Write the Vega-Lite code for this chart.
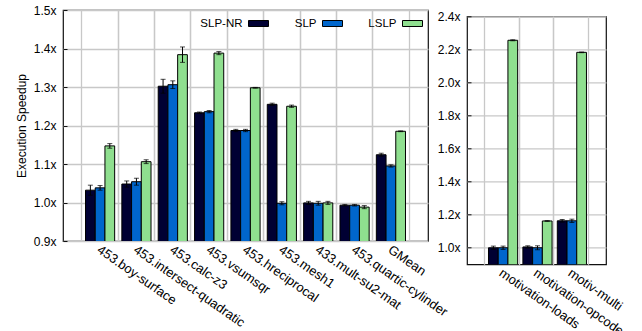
{
  "$schema": "https://vega.github.io/schema/vega-lite/v6.json",
  "background": "white",
  "padding": {"left": 14, "top": 3, "right": 0, "bottom": 0},
  "config": {
    "font": "Liberation Sans",
    "view": {"stroke": "#111111", "strokeWidth": 1.2},
    "axis": {
      "labelFont": "Liberation Sans",
      "labelFontSize": 12,
      "labelColor": "black",
      "titleFont": "Liberation Sans",
      "titleFontSize": 12,
      "titleFontWeight": "normal",
      "titleColor": "black",
      "gridColor": "#c8c8c8",
      "gridWidth": 1.3,
      "gridOpacity": 1,
      "domain": false,
      "labelOverlap": false
    }
  },
  "datasets": {
    "main": [
      {"bench": "453.boy-surface", "config": "SLP-NR", "value": 1.032, "lo": 1.019, "hi": 1.045},
      {"bench": "453.boy-surface", "config": "SLP", "value": 1.038, "lo": 1.032, "hi": 1.044},
      {"bench": "453.boy-surface", "config": "LSLP", "value": 1.147, "lo": 1.141, "hi": 1.153},
      {"bench": "453.intersect-quadratic", "config": "SLP-NR", "value": 1.048, "lo": 1.040, "hi": 1.056},
      {"bench": "453.intersect-quadratic", "config": "SLP", "value": 1.054, "lo": 1.045, "hi": 1.063},
      {"bench": "453.intersect-quadratic", "config": "LSLP", "value": 1.106, "lo": 1.101, "hi": 1.111},
      {"bench": "453.calc-z3", "config": "SLP-NR", "value": 1.302, "lo": 1.284, "hi": 1.320},
      {"bench": "453.calc-z3", "config": "SLP", "value": 1.306, "lo": 1.296, "hi": 1.316},
      {"bench": "453.calc-z3", "config": "LSLP", "value": 1.384, "lo": 1.364, "hi": 1.404},
      {"bench": "453.vsumsqr", "config": "SLP-NR", "value": 1.233, "lo": 1.231, "hi": 1.235},
      {"bench": "453.vsumsqr", "config": "SLP", "value": 1.236, "lo": 1.233, "hi": 1.239},
      {"bench": "453.vsumsqr", "config": "LSLP", "value": 1.388, "lo": 1.384, "hi": 1.392},
      {"bench": "453.hreciprocal", "config": "SLP-NR", "value": 1.187, "lo": 1.184, "hi": 1.190},
      {"bench": "453.hreciprocal", "config": "SLP", "value": 1.187, "lo": 1.184, "hi": 1.190},
      {"bench": "453.hreciprocal", "config": "LSLP", "value": 1.298, "lo": 1.297, "hi": 1.299},
      {"bench": "453.mesh1", "config": "SLP-NR", "value": 1.255, "lo": 1.252, "hi": 1.258},
      {"bench": "453.mesh1", "config": "SLP", "value": 0.998, "lo": 0.994, "hi": 1.002},
      {"bench": "453.mesh1", "config": "LSLP", "value": 1.250, "lo": 1.247, "hi": 1.253},
      {"bench": "433.mult-su2-mat", "config": "SLP-NR", "value": 0.999, "lo": 0.995, "hi": 1.003},
      {"bench": "433.mult-su2-mat", "config": "SLP", "value": 0.998, "lo": 0.993, "hi": 1.003},
      {"bench": "433.mult-su2-mat", "config": "LSLP", "value": 0.999, "lo": 0.995, "hi": 1.003},
      {"bench": "453.quartic-cylinder", "config": "SLP-NR", "value": 0.993, "lo": 0.991, "hi": 0.995},
      {"bench": "453.quartic-cylinder", "config": "SLP", "value": 0.993, "lo": 0.991, "hi": 0.995},
      {"bench": "453.quartic-cylinder", "config": "LSLP", "value": 0.988, "lo": 0.984, "hi": 0.992},
      {"bench": "GMean", "config": "SLP-NR", "value": 1.124, "lo": 1.120, "hi": 1.128},
      {"bench": "GMean", "config": "SLP", "value": 1.095, "lo": 1.092, "hi": 1.098},
      {"bench": "GMean", "config": "LSLP", "value": 1.185, "lo": 1.184, "hi": 1.186}
    ],
    "motiv": [
      {"bench": "motivation-loads", "config": "SLP-NR", "value": 1.0, "lo": 0.99, "hi": 1.01},
      {"bench": "motivation-loads", "config": "SLP", "value": 1.0, "lo": 0.99, "hi": 1.01},
      {"bench": "motivation-loads", "config": "LSLP", "value": 2.255, "lo": 2.252, "hi": 2.258},
      {"bench": "motivation-opcodes", "config": "SLP-NR", "value": 1.005, "lo": 0.998, "hi": 1.012},
      {"bench": "motivation-opcodes", "config": "SLP", "value": 1.0, "lo": 0.988, "hi": 1.012},
      {"bench": "motivation-opcodes", "config": "LSLP", "value": 1.162, "lo": 1.160, "hi": 1.164},
      {"bench": "motiv-multi", "config": "SLP-NR", "value": 1.163, "lo": 1.155, "hi": 1.171},
      {"bench": "motiv-multi", "config": "SLP", "value": 1.163, "lo": 1.153, "hi": 1.173},
      {"bench": "motiv-multi", "config": "LSLP", "value": 2.182, "lo": 2.180, "hi": 2.184}
    ]
  },
  "bounds": "flush",
  "spacing": 39,
  "resolve": {"scale": {"color": "independent"}, "legend": {"color": "independent"}},
  "hconcat": [
    {
      "width": 365,
      "height": 231,
      "data": {"name": "main"},
      "resolve": {"axis": {"x": "independent"}},
      "layer": [
        {
          "mark": {"type": "bar", "stroke": "black", "strokeWidth": 1, "clip": true},
          "encoding": {
            "x": {
              "field": "bench", "type": "nominal", "sort": null,
              "scale": {"paddingInner": 0, "paddingOuter": 0.52},
              "axis": {"title": null, "bandPosition": 0, "grid": true, "ticks": false, "labelAngle": 35, "labelAlign": "left", "labelBaseline": "top", "labelOffset": 2, "labelPadding": 2, "labelFontSize": 13}
            },
            "xOffset": {"field": "config", "type": "nominal", "sort": ["SLP-NR", "SLP", "LSLP"], "scale": {"paddingInner": 0, "paddingOuter": 0.37}},
            "y": {
              "field": "value", "type": "quantitative", "title": "Execution Speedup",
              "scale": {"domain": [0.9, 1.5], "zero": false, "nice": false},
              "axis": {"values": [0.9, 1.0, 1.1, 1.2, 1.3, 1.4, 1.5], "tickCount": 20, "labelExpr": "format(datum.value, '.1f') + 'x'", "grid": true, "ticks": true, "tickSize": -4, "tickColor": "#111111", "labelPadding": 11, "titlePadding": 5}
            },
            "color": {
              "field": "config", "type": "nominal",
              "scale": {"domain": ["SLP-NR", "SLP", "LSLP"], "range": ["#000033", "#0066cc", "#8fdf8f"]},
              "legend": {
                "title": null, "orient": "none", "legendX": 185, "legendY": 3, "direction": "horizontal", "columns": 3,
                "gridAlign": "none", "columnPadding": 23, "padding": 0,
                "symbolType": "M-1,-0.3L1,-0.3L1,0.3L-1,0.3Z", "symbolSize": 400,
                "symbolStrokeColor": "black", "symbolStrokeWidth": 1, "symbolOpacity": 1,
                "labelAlign": "right", "labelOffset": -26.5, "labelFontSize": 11.5, "labelColor": "black", "labelFont": "Liberation Sans"
              }
            }
          }
        },
        {
          "mark": {"type": "rule", "color": "black", "strokeWidth": 1},
          "encoding": {
            "x": {"field": "bench", "type": "nominal", "sort": null, "axis": null},
            "xOffset": {"field": "config", "type": "nominal", "sort": ["SLP-NR", "SLP", "LSLP"]},
            "y": {"field": "lo", "type": "quantitative", "title": "Execution Speedup"},
            "y2": {"field": "hi"}
          }
        },
        {
          "mark": {"type": "tick", "color": "black", "size": 5, "thickness": 1, "orient": "horizontal"},
          "encoding": {
            "x": {"field": "bench", "type": "nominal", "sort": null, "axis": null},
            "xOffset": {"field": "config", "type": "nominal", "sort": ["SLP-NR", "SLP", "LSLP"]},
            "y": {"field": "lo", "type": "quantitative", "title": "Execution Speedup"}
          }
        },
        {
          "mark": {"type": "tick", "color": "black", "size": 5, "thickness": 1, "orient": "horizontal"},
          "encoding": {
            "x": {"field": "bench", "type": "nominal", "sort": null, "axis": {"orient": "top", "title": null, "bandPosition": 1, "grid": true, "ticks": false, "labels": false, "domain": false}},
            "xOffset": {"field": "config", "type": "nominal", "sort": ["SLP-NR", "SLP", "LSLP"]},
            "y": {"field": "hi", "type": "quantitative", "title": "Execution Speedup"}
          }
        }
      ]
    },
    {
      "bounds": "flush",
      "spacing": 5.3,
      "vconcat": [
        {
          "width": 139,
          "height": 1,
          "view": {"stroke": null},
          "data": {"values": [{}]},
          "mark": {"type": "point", "opacity": 0},
          "encoding": {}
        },
        {
          "width": 139,
          "height": 248,
          "data": {"name": "motiv"},
          "resolve": {"axis": {"x": "independent"}},
          "layer": [
            {
              "mark": {"type": "bar", "stroke": "black", "strokeWidth": 1, "clip": true},
              "encoding": {
                "x": {
                  "field": "bench", "type": "nominal", "sort": null,
                  "scale": {"paddingInner": 0, "paddingOuter": 0.52},
                  "axis": {"title": null, "bandPosition": 0, "grid": true, "ticks": false, "labelAngle": 35, "labelAlign": "left", "labelBaseline": "top", "labelOffset": 2, "labelPadding": 2, "labelFontSize": 13}
                },
                "xOffset": {"field": "config", "type": "nominal", "sort": ["SLP-NR", "SLP", "LSLP"], "scale": {"paddingInner": 0, "paddingOuter": 0.5}},
                "y": {
                  "field": "value", "type": "quantitative", "title": null,
                  "scale": {"domain": [0.9, 2.4], "zero": false, "nice": false},
                  "axis": {"values": [1.0, 1.2, 1.4, 1.6, 1.8, 2.0, 2.2, 2.4], "tickCount": 20, "labelExpr": "format(datum.value, '.1f') + 'x'", "grid": true, "ticks": true, "tickSize": -4, "tickColor": "#111111", "labelPadding": 11}
                },
                "color": {
                  "field": "config", "type": "nominal",
                  "scale": {"domain": ["SLP-NR", "SLP", "LSLP"], "range": ["#000033", "#0066cc", "#8fdf8f"]},
                  "legend": null
                }
              }
            },
            {
              "mark": {"type": "rule", "color": "black", "strokeWidth": 1},
              "encoding": {
                "x": {"field": "bench", "type": "nominal", "sort": null, "axis": null},
                "xOffset": {"field": "config", "type": "nominal", "sort": ["SLP-NR", "SLP", "LSLP"]},
                "y": {"field": "lo", "type": "quantitative", "title": null},
                "y2": {"field": "hi"}
              }
            },
            {
              "mark": {"type": "tick", "color": "black", "size": 5, "thickness": 1, "orient": "horizontal"},
              "encoding": {
                "x": {"field": "bench", "type": "nominal", "sort": null, "axis": null},
                "xOffset": {"field": "config", "type": "nominal", "sort": ["SLP-NR", "SLP", "LSLP"]},
                "y": {"field": "lo", "type": "quantitative", "title": null}
              }
            },
            {
              "mark": {"type": "tick", "color": "black", "size": 5, "thickness": 1, "orient": "horizontal"},
              "encoding": {
                "x": {"field": "bench", "type": "nominal", "sort": null, "axis": {"orient": "top", "title": null, "bandPosition": 1, "grid": true, "ticks": false, "labels": false, "domain": false}},
                "xOffset": {"field": "config", "type": "nominal", "sort": ["SLP-NR", "SLP", "LSLP"]},
                "y": {"field": "hi", "type": "quantitative", "title": null}
              }
            }
          ]
        }
      ]
    }
  ]
}
